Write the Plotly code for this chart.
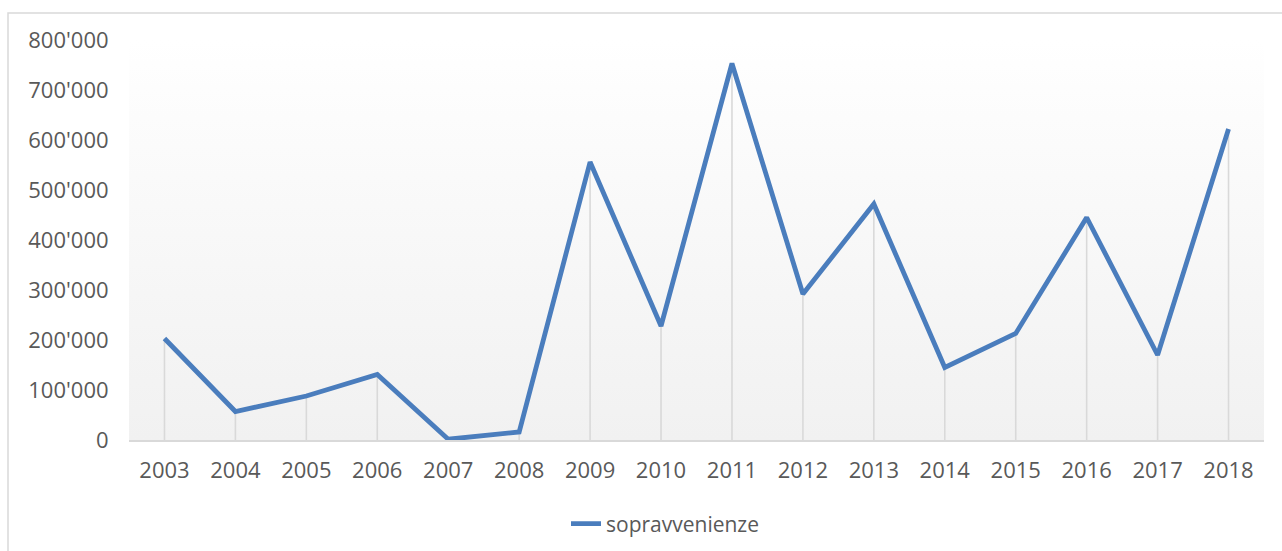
import base64
import plotly.graph_objects as go

years = ["2003", "2004", "2005", "2006", "2007", "2008", "2009", "2010",
         "2011", "2012", "2013", "2014", "2015", "2016", "2017", "2018"]
sopravvenienze = [203000, 57000, 88000, 131000, 1500, 16000, 556000, 228000,
                  753000, 292000, 472000, 145000, 213000, 445000, 170000, 622000]
y_ticks = [0, 100000, 200000, 300000, 400000, 500000, 600000, 700000, 800000]
y_tick_labels = ["0", "100'000", "200'000", "300'000", "400'000",
                 "500'000", "600'000", "700'000", "800'000"]
series_name = "sopravvenienze"

FONT = "Open Sans, Liberation Sans, sans-serif"
TXT = "#595959"
GRID = "#d9d9d9"
BLUE = "#4a7dbd"

svg = ("<svg xmlns='http://www.w3.org/2000/svg' width='100' height='100' "
       "preserveAspectRatio='none'><defs><linearGradient id='g' x1='0' y1='0' "
       "x2='0' y2='1'><stop offset='0' stop-color='#ffffff'/>"
       "<stop offset='0.12' stop-color='#fdfdfd'/>"
       "<stop offset='1' stop-color='#f1f1f1'/></linearGradient></defs>"
       "<rect width='100' height='100' fill='url(#g)'/></svg>")
bg_src = "data:image/svg+xml;base64," + base64.b64encode(svg.encode()).decode()

fig = go.Figure()

# drop lines
fig.add_trace(go.Scatter(
    x=years, y=sopravvenienze, mode="markers",
    marker=dict(size=1, opacity=0),
    error_y=dict(type="data", symmetric=False,
                 array=[0] * len(sopravvenienze),
                 arrayminus=sopravvenienze,
                 color=GRID, thickness=1.6, width=0),
    showlegend=False, hoverinfo="skip",
))

fig.add_trace(go.Scatter(
    x=years, y=sopravvenienze, mode="lines", name=series_name,
    line=dict(color=BLUE, width=4.8),
))

L, R, T, B = 129, 18, 40, 111
W, H = 1282, 551
pw = W - L - R
ph = H - T - B

def px_x(p):
    return (p - L) / pw

def px_y(p):
    return (H - B - p) / ph

fig.update_layout(
    width=W, height=H,
    margin=dict(l=L, r=R, t=T, b=B, autoexpand=False),
    paper_bgcolor="white",
    plot_bgcolor="rgba(0,0,0,0)",
    font=dict(family=FONT, size=22, color=TXT),
    showlegend=True,
    legend=dict(orientation="h", xref="container", yref="container",
                x=566 / W, xanchor="left",
                y=1 - 524 / H, yanchor="middle",
                font=dict(family=FONT, size=21, color=TXT),
                bgcolor="rgba(0,0,0,0)"),
    images=[dict(source=bg_src, xref="paper", yref="paper", x=0, y=1,
                 sizex=1, sizey=1, sizing="stretch", layer="below",
                 xanchor="left", yanchor="top")],
    shapes=[dict(type="rect", xref="paper", yref="paper",
                 x0=px_x(8), x1=px_x(1300), y0=px_y(570), y1=px_y(13),
                 line=dict(color=GRID, width=1.5), fillcolor="rgba(0,0,0,0)",
                 layer="below")],
)

fig.update_xaxes(
    type="category", range=[-0.5, len(years) - 0.5],
    showgrid=False, zeroline=False,
    showline=True, linecolor=GRID, linewidth=1.6,
    ticks="outside", ticklen=10, tickcolor="rgba(0,0,0,0)",
    tickfont=dict(family=FONT, size=22, color=TXT),
)
fig.update_yaxes(
    range=[0, 800000], tickvals=y_ticks, ticktext=y_tick_labels,
    showgrid=False, zeroline=False, showline=False,
    ticks="outside", ticklen=15, tickcolor="rgba(0,0,0,0)",
    tickfont=dict(family=FONT, size=22, color=TXT),
)

fig.write_html(
    "out.html",
    config={"displayModeBar": False},
    post_script="document.body.style.margin='0';document.body.style.overflow='hidden';",
)
